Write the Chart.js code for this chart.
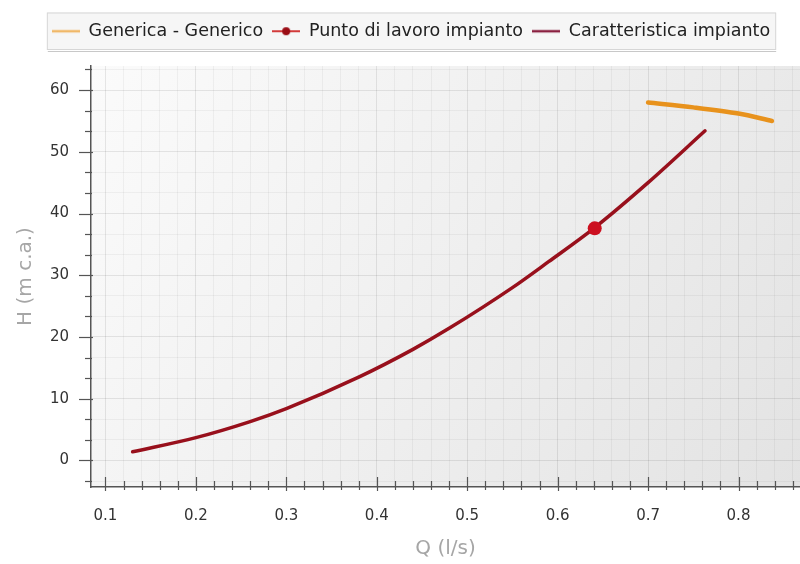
<!DOCTYPE html>
<html>
<head>
<meta charset="utf-8">
<script src="https://cdn.jsdelivr.net/npm/chart.js@4.4.1/dist/chart.umd.min.js"></script>
<style>
  html, body { margin: 0; padding: 0; background: #ffffff; }
  #c { display: block; }
</style>
</head>
<body>
<canvas id="c" width="800" height="564"></canvas>
<script>
// Pump curve (Q in l/s, H in m c.a.)
const pumpQ = [0.70, 0.75, 0.80, 0.837];
const pumpH = [58.0, 57.2, 56.2, 55.0];

// Duty point of the installation
const dutyQ = [0.641];
const dutyH = [37.6];

// System characteristic curve
const systemQ = [0.13, 0.20, 0.26, 0.30, 0.38, 0.44, 0.48, 0.55, 0.59, 0.64, 0.70, 0.763];
const systemH = [1.4, 3.7, 6.3, 8.4, 13.5, 18.0, 21.4, 28.0, 32.2, 37.6, 45.0, 53.4];

const seriesNames = ['Generica - Generico', 'Punto di lavoro impianto', 'Caratteristica impianto'];

// Axis ticks
const xMajorTicks = [0.1, 0.2, 0.3, 0.4, 0.5, 0.6, 0.7, 0.8];
const yMajorTicks = [0, 10, 20, 30, 40, 50, 60];
const xMinorDivisions = 5;
const yMinorDivisions = 3;
const xTitle = 'Q (l/s)';
const yTitle = 'H (m c.a.)';

const X_MIN = 0.084, X_MAX = 0.868;
const Y_MIN = -4.3, Y_MAX = 63.9;

const COL_PUMP = '#e8921c';
const COL_SYSTEM = '#98101c';
const COL_DUTY = '#cc1020';

function toPoints(xs, ys) { return xs.map((x, i) => ({ x: x, y: ys[i] })); }

// Full tick list: majors plus the minor subdivisions, limited to the axis range
function buildTicks(majors, divisions, min, max) {
  const step = (majors[1] - majors[0]) / divisions;
  const out = [];
  for (let m = -1; m < majors.length; m++) {
    const base = m < 0 ? majors[0] - (majors[1] - majors[0]) : majors[m];
    for (let k = 0; k < divisions; k++) {
      const v = +(base + k * step).toFixed(6);
      if (v >= min - 1e-9 && v <= max + 1e-9) out.push({ value: v });
    }
  }
  return out;
}
function isMajor(list, v) { return list.some(m => Math.abs(m - v) < 1e-6); }

// Small legend symbols: a line, optionally with a dot
function legendSymbol(color, width, dotColor) {
  const c = document.createElement('canvas');
  c.width = 28; c.height = 14;
  const g = c.getContext('2d');
  g.strokeStyle = color; g.lineWidth = width; g.lineCap = 'butt';
  g.beginPath(); g.moveTo(0, 7); g.lineTo(28, 7); g.stroke();
  if (dotColor) {
    g.fillStyle = dotColor;
    g.beginPath(); g.arc(14, 7, 4, 0, Math.PI * 2); g.fill();
  }
  return c;
}
const legendSymbols = [
  legendSymbol('#f0b868', 2.5),
  legendSymbol('#d23a3a', 2, '#9a0c14'),
  legendSymbol('#8a2040', 2.5)
];

// Plot background gradient and legend frame
const backdrop = {
  id: 'backdrop',
  beforeDraw(chart) {
    const { ctx, chartArea: a, legend } = chart;
    ctx.save();
    const grad = ctx.createLinearGradient(a.left, a.top, a.right, a.bottom);
    grad.addColorStop(0, '#fbfbfb');
    grad.addColorStop(0.55, '#eeeeee');
    grad.addColorStop(1, '#e3e3e3');
    ctx.fillStyle = grad;
    ctx.fillRect(a.left, a.top, a.right - a.left, a.bottom - a.top);

    if (legend && legend.legendHitBoxes && legend.legendHitBoxes.length) {
      const hb = legend.legendHitBoxes;
      const l = Math.min(...hb.map(h => h.left)) - 5;
      const r = Math.max(...hb.map(h => h.left + h.width)) + 6;
      const t = hb[0].top - 10;
      const b = hb[0].top + hb[0].height + 10;
      ctx.fillStyle = '#f6f6f6';
      ctx.fillRect(l, t, r - l, b - t);
      ctx.strokeStyle = '#d6d6d6';
      ctx.lineWidth = 1;
      ctx.strokeRect(l + 0.5, t + 0.5, r - l - 1, b - t - 1);
      ctx.strokeStyle = '#c8c8c8';
      ctx.beginPath(); ctx.moveTo(l + 1, b + 1.5); ctx.lineTo(r, b + 1.5); ctx.stroke();
    }
    ctx.restore();
  }
};

// Major and minor tick marks on both axes
const tickMarks = {
  id: 'tickMarks',
  afterDraw(chart) {
    const { ctx } = chart;
    const xs = chart.scales.x, ys = chart.scales.y;
    ctx.save();
    ctx.strokeStyle = '#555555';
    ctx.lineWidth = 1.2;
    const axisY = xs.top;
    xs.ticks.forEach(t => {
      const px = Math.round(xs.getPixelForValue(t.value)) + 0.5;
      const major = isMajor(xMajorTicks, t.value);
      ctx.beginPath();
      ctx.moveTo(px, axisY - (major ? 10 : 6));
      ctx.lineTo(px, axisY + (major ? 4 : 3));
      ctx.stroke();
    });
    const axisX = ys.right;
    ys.ticks.forEach(t => {
      const py = Math.round(ys.getPixelForValue(t.value)) + 0.5;
      const major = isMajor(yMajorTicks, t.value);
      ctx.beginPath();
      ctx.moveTo(axisX - (major ? 12 : 6), py);
      ctx.lineTo(axisX + (major ? 2 : 1), py);
      ctx.stroke();
    });
    ctx.restore();
  }
};

const tickFont = { family: "'DejaVu Sans', sans-serif", size: 15 };
const titleFont = { family: "'DejaVu Sans', sans-serif", size: 20 };
const majorGrid = 'rgba(0,0,0,0.085)';
const minorGrid = 'rgba(0,0,0,0.045)';

new Chart(document.getElementById('c'), {
  type: 'scatter',
  data: {
    datasets: [
      {
        label: seriesNames[0],
        data: toPoints(pumpQ, pumpH),
        showLine: true,
        borderColor: COL_PUMP,
        borderWidth: 4.5,
        borderCapStyle: 'round',
        pointRadius: 0,
        tension: 0.3,
        fill: false
      },
      {
        label: seriesNames[1],
        data: toPoints(dutyQ, dutyH),
        showLine: false,
        pointRadius: 7,
        pointBackgroundColor: COL_DUTY,
        pointBorderColor: COL_DUTY,
        pointBorderWidth: 0
      },
      {
        label: seriesNames[2],
        data: toPoints(systemQ, systemH),
        showLine: true,
        borderColor: COL_SYSTEM,
        borderWidth: 3.5,
        borderCapStyle: 'round',
        pointRadius: 0,
        cubicInterpolationMode: 'monotone',
        fill: false
      }
    ]
  },
  options: {
    responsive: false,
    animation: false,
    layout: { autoPadding: false, padding: { left: 22, right: 0, top: 13.5, bottom: 0 } },
    plugins: {
      tooltip: { enabled: false },
      // empty spacer between the legend and the plot
      subtitle: {
        display: true,
        text: '',
        position: 'top',
        weight: 500,
        font: { size: 12 },
        padding: { top: 1.6, bottom: 0 }
      },
      legend: {
        display: true,
        position: 'top',
        align: 'center',
        labels: {
          usePointStyle: true,
          pointStyleWidth: 28,
          boxHeight: 14,
          padding: 9,
          color: '#222222',
          font: { family: "'DejaVu Sans', sans-serif", size: 17.5 },
          generateLabels(chart) {
            return chart.data.datasets.map((ds, i) => ({
              text: ds.label,
              pointStyle: legendSymbols[i],
              fillStyle: 'transparent',
              strokeStyle: 'transparent',
              lineWidth: 0,
              hidden: false,
              datasetIndex: i,
              fontColor: '#222222'
            }));
          }
        }
      }
    },
    scales: {
      x: {
        type: 'linear',
        min: X_MIN,
        max: X_MAX,
        afterBuildTicks(scale) {
          scale.ticks = buildTicks(xMajorTicks, xMinorDivisions, X_MIN, X_MAX);
        },
        afterFit(scale) {
          scale.height = 77;
          scale.paddingLeft = 0;
          scale.paddingRight = 0;
        },
        ticks: {
          autoSkip: false,
          maxRotation: 0,
          padding: 20,
          color: '#333333',
          font: tickFont,
          callback(v) { return isMajor(xMajorTicks, v) ? v.toFixed(1) : ''; }
        },
        grid: {
          drawTicks: false,
          color(ctx) { return ctx.tick && isMajor(xMajorTicks, ctx.tick.value) ? majorGrid : minorGrid; },
          lineWidth: 1
        },
        border: { display: true, color: '#555555', width: 1.5 },
        title: {
          display: true,
          text: xTitle,
          color: '#a6a6a6',
          font: titleFont,
          padding: { top: 0, bottom: 3 }
        }
      },
      y: {
        type: 'linear',
        min: Y_MIN,
        max: Y_MAX,
        afterBuildTicks(scale) {
          scale.ticks = buildTicks(yMajorTicks, yMinorDivisions, Y_MIN, Y_MAX);
        },
        afterFit(scale) {
          scale.width = 69;
          scale.paddingTop = 0;
          scale.paddingBottom = 0;
        },
        ticks: {
          autoSkip: false,
          padding: 22,
          color: '#333333',
          font: tickFont,
          callback(v) { return isMajor(yMajorTicks, v) ? String(Math.round(v)) : ''; }
        },
        grid: {
          drawTicks: false,
          color(ctx) { return ctx.tick && isMajor(yMajorTicks, ctx.tick.value) ? majorGrid : minorGrid; },
          lineWidth: 1
        },
        border: { display: true, color: '#555555', width: 1.5 },
        title: {
          display: true,
          text: yTitle,
          color: '#a6a6a6',
          font: titleFont,
          padding: { top: -8, bottom: 0 }
        }
      }
    }
  },
  plugins: [backdrop, tickMarks]
});
</script>
</body>
</html>
